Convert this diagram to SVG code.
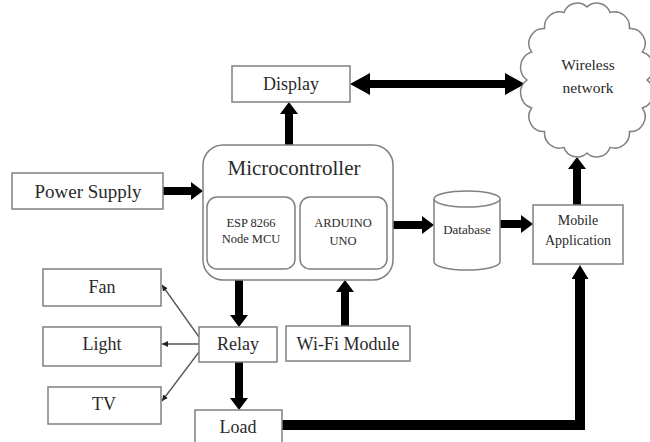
<svg xmlns="http://www.w3.org/2000/svg" width="650" height="442" viewBox="0 0 650 442">
<defs>
<style>
.box{fill:#fff;stroke:#808080;stroke-width:1.5}
.t{font-family:"Liberation Serif","Times New Roman",serif;fill:#2a2a2a;text-anchor:middle}
.thick{stroke:#000;stroke-width:8;fill:none}
.thin{stroke:#555;stroke-width:1.3;fill:none}
</style>
<marker id="ah" markerUnits="userSpaceOnUse" markerWidth="12" markerHeight="18" refX="0" refY="9" orient="auto">
<path d="M0,0 L12,9 L0,18 Z" fill="#000"/>
</marker>
<marker id="ahb" markerUnits="userSpaceOnUse" markerWidth="20" markerHeight="22" refX="0" refY="11" orient="auto-start-reverse">
<path d="M0,0 L20,11 L0,22 Z" fill="#000"/>
</marker>
<marker id="ahl" markerUnits="userSpaceOnUse" markerWidth="14" markerHeight="17" refX="0" refY="8.5" orient="auto">
<path d="M0,0 L14,8.5 L0,17 Z" fill="#000"/>
</marker>
<marker id="as" markerUnits="userSpaceOnUse" markerWidth="6" markerHeight="6" refX="6" refY="3" orient="auto">
<path d="M0,0 L6,3 L0,6 Z" fill="#222"/>
</marker>
</defs>
<rect width="650" height="442" fill="#fff"/>

<g id="connectors">
<line class="thick" x1="289" y1="145" x2="289" y2="114" marker-end="url(#ah)"/>
<line class="thick" x1="163" y1="191" x2="191" y2="191" marker-end="url(#ah)"/>
<line class="thick" x1="370" y1="84" x2="505" y2="84" marker-start="url(#ahb)" marker-end="url(#ahb)"/>
<line class="thick" x1="393" y1="225" x2="422" y2="225" marker-end="url(#ah)"/>
<line class="thick" x1="500" y1="224" x2="521" y2="224" marker-end="url(#ah)"/>
<line class="thick" x1="577" y1="205" x2="577" y2="169" marker-end="url(#ah)"/>
<line class="thick" x1="239" y1="280" x2="239" y2="315" marker-end="url(#ah)"/>
<line class="thick" x1="239" y1="362" x2="239" y2="398" marker-end="url(#ah)"/>
<line class="thick" x1="345" y1="326" x2="345" y2="292" marker-end="url(#ah)"/>
<polyline class="thick" style="stroke-width:10" points="282,425 580,425 580,279" marker-end="url(#ahl)"/>
<line class="thin" x1="199" y1="337" x2="162" y2="285" marker-end="url(#as)"/>
<line class="thin" x1="199" y1="344" x2="162" y2="344" marker-end="url(#as)"/>
<line class="thin" x1="199" y1="352" x2="162" y2="401" marker-end="url(#as)"/>
</g>

<g id="display">
<rect class="box" x="232" y="66" width="118" height="36"/>
<text class="t" x="291" y="90" font-size="18">Display</text>
</g>

<g id="wireless-network">
<path class="box" d="M587,7 A14,14 0 0 1 610,12.6 A15,15 0 0 1 629.4,28.4 A15,15 0 0 1 642.4,52 A16,16 0 0 1 647,80 A16,16 0 0 1 642.4,108 A15,15 0 0 1 629.4,131.6 A15,15 0 0 1 610,147.4 A14,14 0 0 1 587,153 A14,14 0 0 1 564,147.4 A15,15 0 0 1 544.6,131.6 A15,15 0 0 1 531.6,108 A16,16 0 0 1 527,80 A16,16 0 0 1 531.6,52 A15,15 0 0 1 544.6,28.4 A15,15 0 0 1 564,12.6 A14,14 0 0 1 587,7 Z"/>
<text class="t" x="588" y="70" font-size="15.5">Wireless</text>
<text class="t" x="588" y="93" font-size="15.5">network</text>
</g>

<g id="power-supply">
<rect class="box" x="12" y="173" width="151" height="36"/>
<text class="t" x="88" y="198" font-size="19">Power Supply</text>
</g>

<g id="microcontroller">
<rect class="box" x="203" y="145" width="190" height="135" rx="20"/>
<text class="t" x="294" y="175" font-size="21">Microcontroller</text>
</g>

<g id="esp8266">
<rect class="box" x="207" y="197" width="88" height="72" rx="10"/>
<text class="t" x="251" y="227" font-size="12.5">ESP 8266</text>
<text class="t" x="251" y="243" font-size="12.5">Node MCU</text>
</g>

<g id="arduino">
<rect class="box" x="300" y="197" width="87" height="72" rx="10"/>
<text class="t" x="343" y="227" font-size="12.5">ARDUINO</text>
<text class="t" x="343" y="245" font-size="12.5">UNO</text>
</g>

<g id="database">
<path class="box" d="M434,199 L434,262 A33,8 0 0 0 500,262 L500,199"/>
<ellipse class="box" cx="467" cy="199" rx="33" ry="8"/>
<text class="t" x="467" y="234" font-size="13">Database</text>
</g>

<g id="mobile-application">
<rect class="box" x="533" y="205" width="90" height="59"/>
<text class="t" x="578" y="225" font-size="14">Mobile</text>
<text class="t" x="578" y="245" font-size="14">Application</text>
</g>

<g id="relay">
<rect class="box" x="199" y="327" width="78" height="35"/>
<text class="t" x="238" y="350" font-size="18">Relay</text>
</g>

<g id="wifi-module">
<rect class="box" x="286" y="326" width="124" height="35"/>
<text class="t" x="348" y="350" font-size="18">Wi-Fi Module</text>
</g>

<g id="load">
<rect class="box" x="195" y="410" width="87" height="34"/>
<text class="t" x="238" y="433" font-size="18">Load</text>
</g>

<g id="fan">
<rect class="box" x="43" y="269" width="118" height="37"/>
<text class="t" x="102" y="293" font-size="18">Fan</text>
</g>

<g id="light">
<rect class="box" x="43" y="327" width="118" height="39"/>
<text class="t" x="102" y="350" font-size="18">Light</text>
</g>

<g id="tv">
<rect class="box" x="48" y="387" width="113" height="37"/>
<text class="t" x="104" y="410" font-size="18">TV</text>
</g>
</svg>
